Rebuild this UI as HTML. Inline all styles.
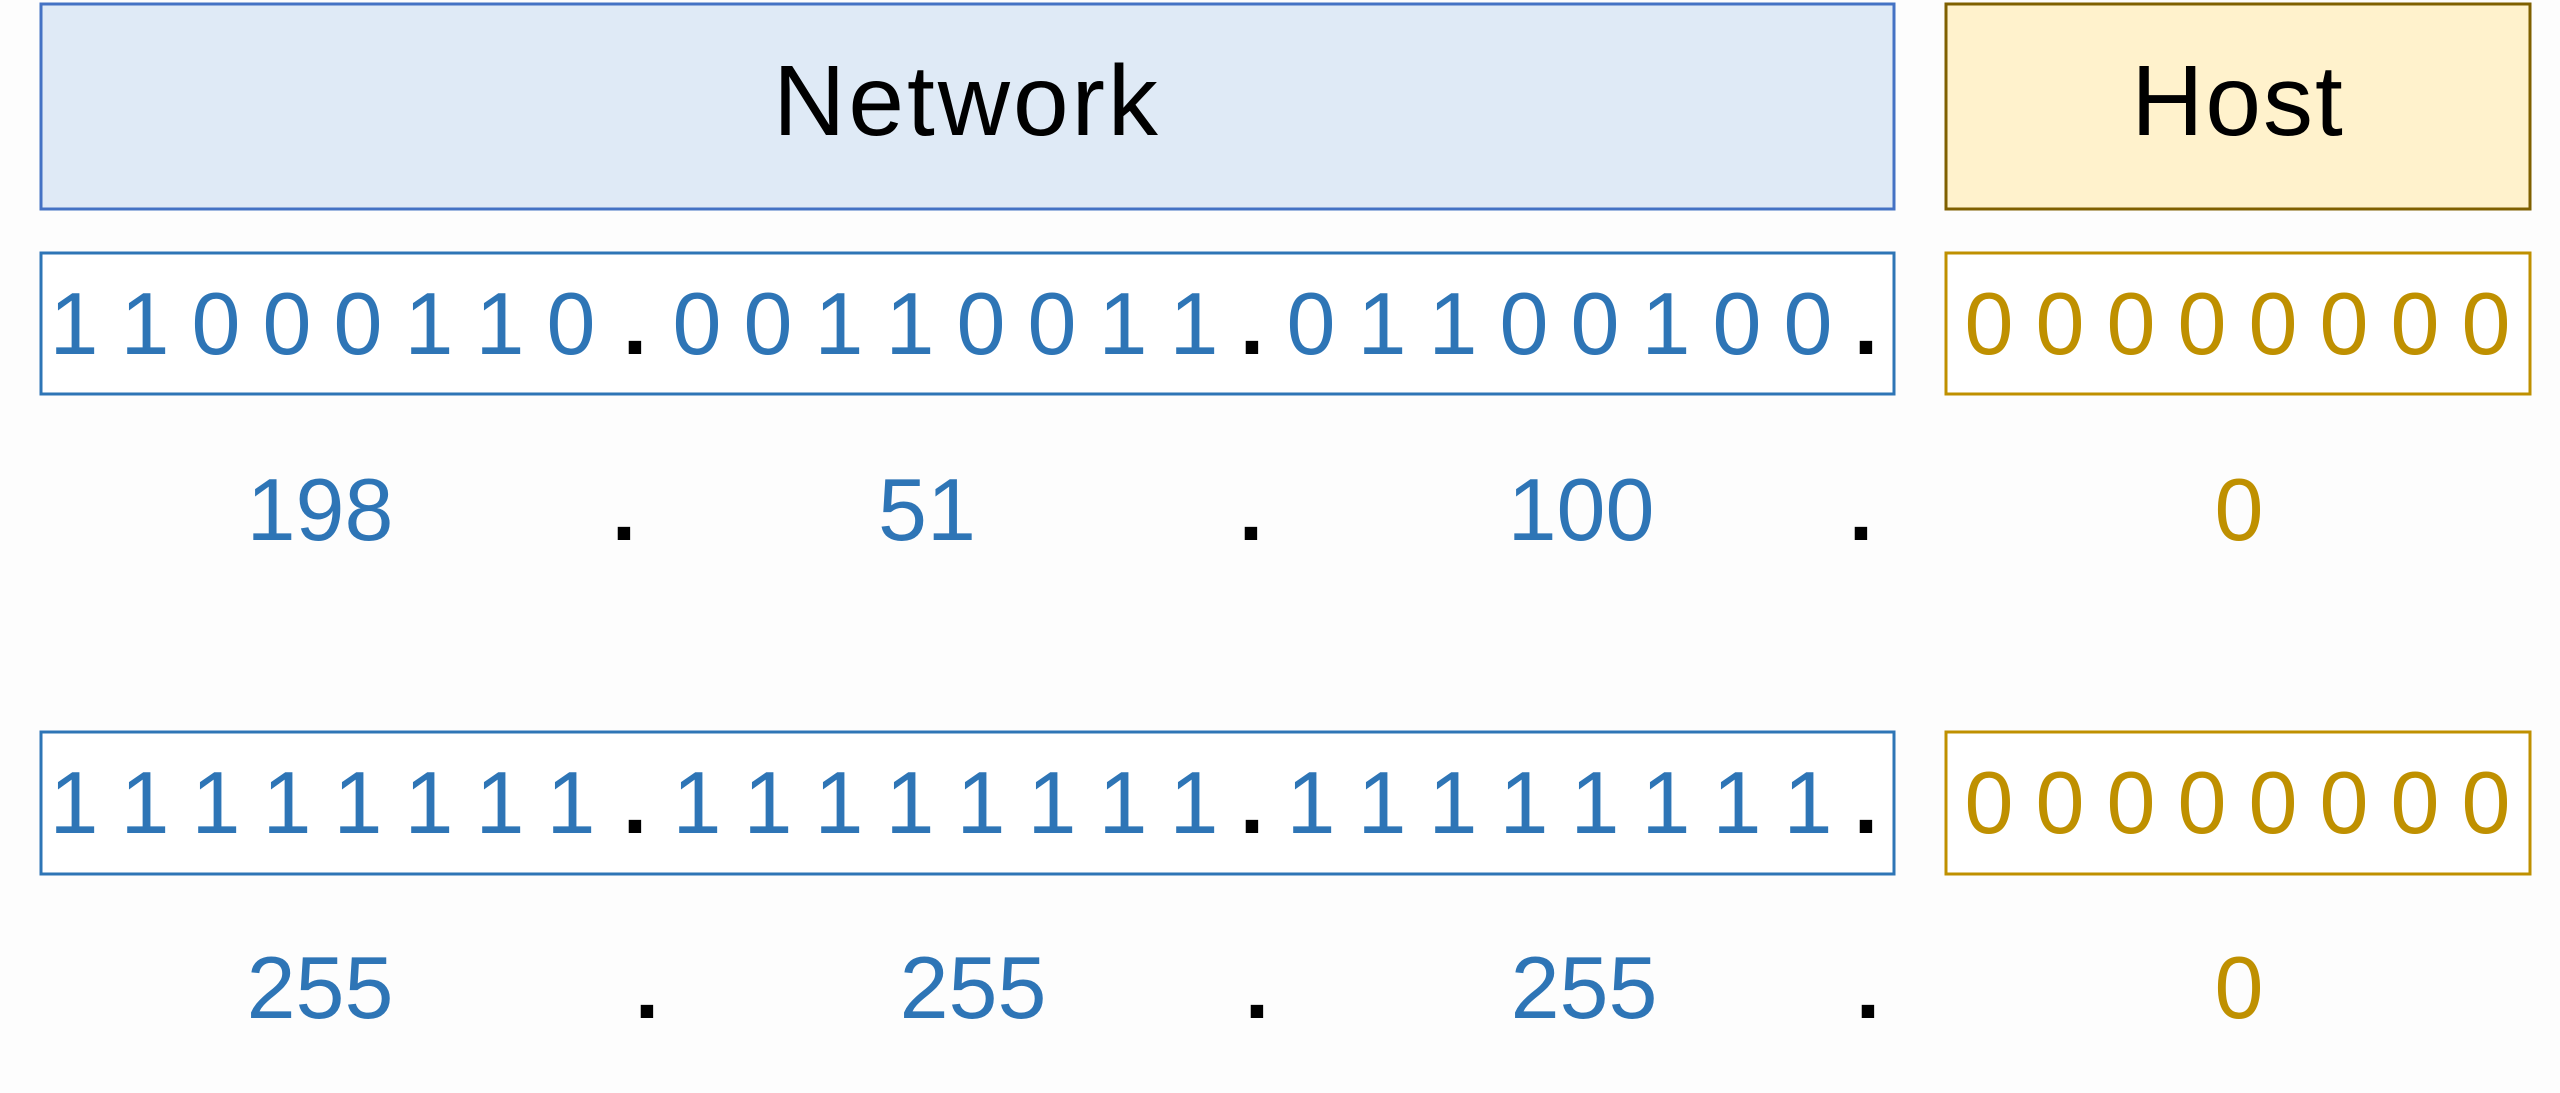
<!DOCTYPE html>
<html><head><meta charset="utf-8"><style>
html,body{margin:0;padding:0;background:#fdfdfd;}
svg{display:block;}
text{font-family:"Liberation Sans",sans-serif;}
</style></head><body>
<svg width="2560" height="1093" viewBox="0 0 2560 1093" xmlns="http://www.w3.org/2000/svg">
<rect x="0" y="0" width="2560" height="1093" fill="#fdfdfd"/>
<rect x="41" y="4" width="1853" height="205" fill="#dfeaf6" stroke="#4472c4" stroke-width="3"/>
<rect x="1946" y="4" width="584" height="205" fill="#fff2cc" stroke="#7f6000" stroke-width="3"/>
<text x="967" y="135" font-size="100" text-anchor="middle" fill="#000" letter-spacing="3">Network</text>
<text x="2238" y="135" font-size="100" text-anchor="middle" fill="#000" letter-spacing="2">Host</text>
<rect x="41" y="253" width="1853" height="141" fill="#fff" stroke="#2e75b6" stroke-width="3"/>
<rect x="1946" y="253" width="584" height="141" fill="#fff" stroke="#bf9000" stroke-width="3"/>
<rect x="41" y="732" width="1853" height="142" fill="#fff" stroke="#2e75b6" stroke-width="3"/>
<rect x="1946" y="732" width="584" height="142" fill="#fff" stroke="#bf9000" stroke-width="3"/>
<g font-size="88" text-anchor="middle" fill="#2e75b6">
<text y="354"><tspan x="74">1</tspan><tspan x="145">1</tspan><tspan x="216">0</tspan><tspan x="287">0</tspan><tspan x="358">0</tspan><tspan x="429">1</tspan><tspan x="500">1</tspan><tspan x="571">0</tspan></text>
<text y="354"><tspan x="697">0</tspan><tspan x="768">0</tspan><tspan x="839">1</tspan><tspan x="910">1</tspan><tspan x="981">0</tspan><tspan x="1052">0</tspan><tspan x="1123">1</tspan><tspan x="1194">1</tspan></text>
<text y="354"><tspan x="1311">0</tspan><tspan x="1382">1</tspan><tspan x="1453">1</tspan><tspan x="1524">0</tspan><tspan x="1595">0</tspan><tspan x="1666">1</tspan><tspan x="1737">0</tspan><tspan x="1808">0</tspan></text>
<text y="833"><tspan x="74">1</tspan><tspan x="145">1</tspan><tspan x="216">1</tspan><tspan x="287">1</tspan><tspan x="358">1</tspan><tspan x="429">1</tspan><tspan x="500">1</tspan><tspan x="571">1</tspan></text>
<text y="833"><tspan x="697">1</tspan><tspan x="768">1</tspan><tspan x="839">1</tspan><tspan x="910">1</tspan><tspan x="981">1</tspan><tspan x="1052">1</tspan><tspan x="1123">1</tspan><tspan x="1194">1</tspan></text>
<text y="833"><tspan x="1311">1</tspan><tspan x="1382">1</tspan><tspan x="1453">1</tspan><tspan x="1524">1</tspan><tspan x="1595">1</tspan><tspan x="1666">1</tspan><tspan x="1737">1</tspan><tspan x="1808">1</tspan></text>
<text x="320" y="540">198</text>
<text x="927" y="540">51</text>
<text x="1581" y="540">100</text>
<text x="320" y="1018">255</text>
<text x="973" y="1018">255</text>
<text x="1584" y="1018">255</text>
</g>
<g font-size="88" text-anchor="middle" fill="#bf9000">
<text y="354"><tspan x="1989">0</tspan><tspan x="2060">0</tspan><tspan x="2131">0</tspan><tspan x="2202">0</tspan><tspan x="2273">0</tspan><tspan x="2344">0</tspan><tspan x="2415">0</tspan><tspan x="2486">0</tspan></text>
<text y="833"><tspan x="1989">0</tspan><tspan x="2060">0</tspan><tspan x="2131">0</tspan><tspan x="2202">0</tspan><tspan x="2273">0</tspan><tspan x="2344">0</tspan><tspan x="2415">0</tspan><tspan x="2486">0</tspan></text>
<text x="2239" y="540">0</text>
<text x="2239" y="1018">0</text>
</g>
<g font-size="88" text-anchor="middle" fill="#000" font-weight="bold">
<text x="635" y="354">.</text><text x="1252" y="354">.</text><text x="1866" y="354">.</text>
<text x="635" y="833">.</text><text x="1252" y="833">.</text><text x="1866" y="833">.</text>
<text x="624" y="540">.</text><text x="1251" y="540">.</text><text x="1861" y="540">.</text>
<text x="647" y="1018">.</text><text x="1257" y="1018">.</text><text x="1868" y="1018">.</text>
</g>
</svg>
</body></html>
